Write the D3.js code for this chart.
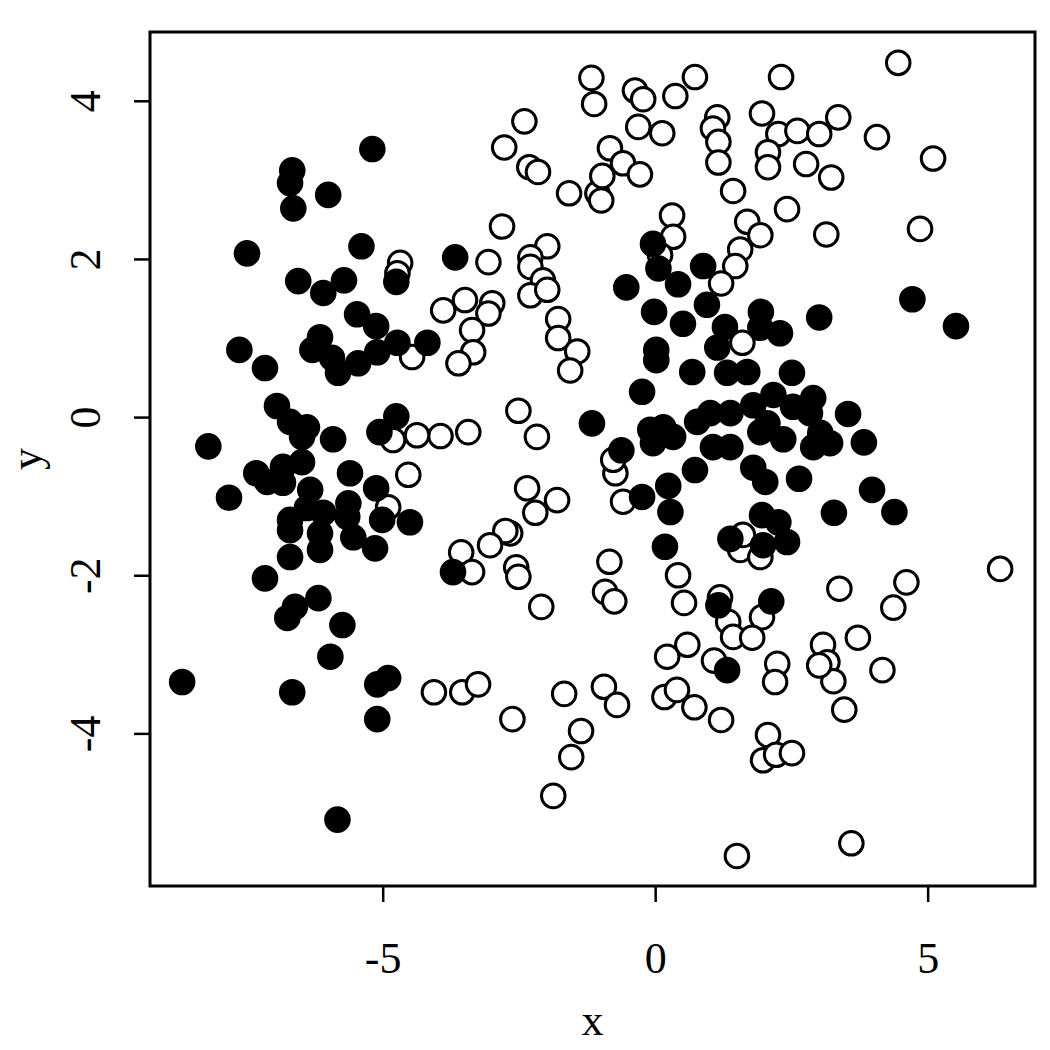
<!DOCTYPE html>
<html>
<head>
<meta charset="utf-8">
<script src="https://cdn.jsdelivr.net/npm/d3@7"></script>
<style>
  body { margin: 0; background: #fff; }
  svg text { font-family: 'Liberation Serif', 'Times New Roman', serif; }
</style>
</head>
<body>
<div class="chart"></div>
<script>
// filled points (class 1)
var filledX = [-8.68, -8.20, -7.82, -7.63, -7.49, -7.16, -7.16, -6.94, -7.32, -7.12, -6.83, -6.48, -6.83, -5.60, -6.33,
  -5.12, -6.70, -6.39, -6.09, -5.63, -6.15, -6.70, -5.65, -5.54, -5.01, -4.50, -6.70, -6.15, -5.14, -6.18, -6.61,
  -6.75, -5.74, -5.96, -6.66, -5.10, -4.90, -5.10, -5.83, -3.71, -5.19, -6.66, -6.70, -6.00, -6.64, -5.39, -3.67,
  -6.55, -6.09, -5.71, -5.47, -5.12, -4.75, -6.15, -6.29, -5.93, -5.82, -5.45, -5.10, -4.73, -4.18, -4.75, -5.06,
  -6.48, -6.39, -6.70, -5.91,
  -0.53, -0.02, 0.02, 0.02, -0.24, -1.16, -0.04, 0.06, 0.42, 0.88, 0.95, 0.51, 1.28, 1.14, 0.68, 1.32, -0.62,
  -0.09, 0.15, 0.33, -0.04, 0.77, 1.01, 1.38, 1.06, 1.38, 1.94, 2.29, 1.93, 1.69, 2.51, 2.17, 1.80, 2.90, 2.53,
  2.84, 3.54, 2.06, 1.93, 2.35, 3.03, 3.21, 2.90, 3.83, 4.72, 5.52, 3.01, -0.24, 0.24, 0.28, 0.73, 0.18, 1.16,
  1.32, 1.80, 2.02, 2.64, 3.98, 4.39, 3.28, 1.96, 2.26, 2.42, 1.98, 1.38, 2.13];
var filledY = [-3.35, -0.37, -1.02, 0.85, 2.07, 0.62, -2.04, 0.14, -0.71, -0.82, -0.63, -0.57, -0.83, -0.71, -0.92,
  -0.90, -1.30, -1.15, -1.21, -1.09, -1.47, -1.43, -1.26, -1.52, -1.30, -1.33, -1.77, -1.68, -1.66, -2.29, -2.40,
  -2.54, -2.63, -3.03, -3.48, -3.38, -3.30, -3.82, -5.09, -1.96, 3.39, 3.12, 2.96, 2.81, 2.64, 2.16, 2.02,
  1.72, 1.57, 1.73, 1.30, 1.15, 1.71, 1.01, 0.85, 0.75, 0.56, 0.68, 0.82, 0.94, 0.94, 0.01, -0.19,
  -0.25, -0.13, -0.06, -0.28,
  1.64, 1.33, 0.85, 0.72, 0.32, -0.08, 2.19, 1.88, 1.68, 1.91, 1.42, 1.18, 1.14, 0.88, 0.57, 0.56, -0.42,
  -0.16, -0.13, -0.25, -0.33, -0.06, 0.05, 0.05, -0.38, -0.38, 1.33, 1.06, 1.13, 0.57, 0.56, 0.28, 0.15, 0.24, 0.13,
  0.05, 0.04, -0.08, -0.19, -0.28, -0.20, -0.33, -0.38, -0.32, 1.49, 1.15, 1.26, -1.01, -0.87, -1.20, -0.67, -1.64, -2.38,
  -3.20, -0.64, -0.82, -0.78, -0.92, -1.20, -1.21, -1.24, -1.33, -1.58, -1.62, -1.54, -2.33];

// open points (class 0)
var openX = [-1.17, -1.12, -0.37, -0.22, 0.37, 0.73, -2.40, -2.77, -2.31, -2.15, -1.58, -1.06, -0.99, -0.97, -0.83,
  -0.59, -0.28, -0.31, 0.13, 1.14, 1.06, 1.16, 1.16, 1.43, 0.31, 0.33, -2.81, -1.98, 4.46, 2.31, 1.96, 2.26, 2.61,
  3.01, 3.36, 4.07, 5.10, 2.07, 2.07, 2.77, 3.23, 2.42, 1.69, 1.93, 3.14, 4.86, 1.56, 1.47, 1.21, 1.60, 0.09,
  -3.06, -2.29, -2.29, -2.06, -2.29, -1.98, -3.89, -3.49, -2.99, -3.06, -3.36, -3.34, -3.61, -1.78, -1.78, -1.43,
  -1.56, -2.51, -2.17, -3.43, -3.94, -4.37, -4.81, -4.68, -4.73, -4.46, -4.53, -4.90, -2.35, -1.80, -2.20, -2.66,
  -2.75, -3.03, -3.56, -3.36, -2.55, -2.51, -2.09, -0.84, -0.92, -0.75, -0.73, -0.77, -0.59, 0.42, 0.53, 1.19,
  1.34, 1.43, 0.59, 0.22, 1.08, -4.06, -3.54, -3.25, -2.62, -1.67, -0.94, -0.70, -1.36, -1.54, -1.87, 0.17, 0.40,
  0.72, 1.21, 1.50, 6.33, 4.61, 3.38, 4.37, 3.72, 3.08, 3.16, 3.27, 2.24, 2.20, 4.17, 1.96, 1.78, 1.56, 1.93,
  1.61, 3.47, 2.07, 1.98, 2.22, 2.51, 3.60, 3.01];
var openY = [4.29, 3.96, 4.13, 4.02, 4.06, 4.30, 3.74, 3.41, 3.16, 3.10, 2.83, 2.83, 2.74, 3.05, 3.40,
  3.21, 3.07, 3.67, 3.59, 3.79, 3.65, 3.48, 3.22, 2.86, 2.55, 2.28, 2.41, 2.16, 4.48, 4.30, 3.84, 3.58, 3.62,
  3.58, 3.79, 3.54, 3.27, 3.35, 3.16, 3.20, 3.03, 2.63, 2.47, 2.30, 2.31, 2.38, 2.12, 1.91, 1.69, 0.94, 2.05,
  1.96, 2.02, 1.90, 1.73, 1.54, 1.61, 1.35, 1.48, 1.44, 1.31, 1.10, 0.82, 0.68, 1.24, 1.00, 0.83,
  0.59, 0.08, -0.25, -0.19, -0.24, -0.23, -0.29, 1.95, 1.82, 0.76, -0.73, -1.14, -0.90, -1.05, -1.21, -1.47,
  -1.44, -1.62, -1.71, -1.96, -1.90, -2.02, -2.40, -1.83, -2.21, -2.33, -0.71, -0.54, -1.07, -2.00, -2.35, -2.28,
  -2.59, -2.78, -2.88, -3.03, -3.08, -3.48, -3.48, -3.38, -3.82, -3.50, -3.41, -3.64, -3.97, -4.30, -4.79, -3.54, -3.45,
  -3.67, -3.83, -5.55, -1.92, -2.09, -2.17, -2.41, -2.79, -2.88, -3.10, -3.34, -3.12, -3.35, -3.20, -2.53, -2.79, -1.68, -1.77,
  -1.49, -3.70, -4.02, -4.34, -4.27, -4.25, -5.39, -3.14];

// axes
var xTicks = [-5, 0, 5];
var yTicks = [-4, -2, 0, 2, 4];
var xLimits = [-9.27, 6.97];
var yLimits = [-5.93, 4.87];

const W = 1050, H = 1050;
var margin = {top: 32, right: 15, bottom: 164, left: 150};

var svg = d3.select('.chart')
            .append('svg')
            .attr('width', W)
            .attr('height', H);

var x = d3.scaleLinear().domain(xLimits).range([margin.left, W - margin.right]);
var y = d3.scaleLinear().domain(yLimits).range([H - margin.bottom, margin.top]);

var openPts = openX.map((v, i) => [v, openY[i]]);
var filledPts = filledX.map((v, i) => [v, filledY[i]]);

// open circles first, filled on top
svg.append('g')
   .selectAll('circle')
   .data(openPts)
   .enter()
   .append('circle')
   .attr('cx', d => x(d[0]))
   .attr('cy', d => y(d[1]))
   .attr('r', 11.8)
   .attr('fill', '#fff')
   .attr('stroke', '#000')
   .attr('stroke-width', 3);

svg.append('g')
   .selectAll('circle')
   .data(filledPts)
   .enter()
   .append('circle')
   .attr('cx', d => x(d[0]))
   .attr('cy', d => y(d[1]))
   .attr('r', 11.8)
   .attr('fill', '#000')
   .attr('stroke', '#000')
   .attr('stroke-width', 3);

// box
svg.append('rect')
   .attr('x', margin.left)
   .attr('y', margin.top)
   .attr('width', W - margin.left - margin.right)
   .attr('height', H - margin.top - margin.bottom)
   .attr('fill', 'none')
   .attr('stroke', '#000')
   .attr('stroke-width', 3);

// x axis
var xAxis = svg.append('g')
   .attr('transform', `translate(0, ${H - margin.bottom})`)
   .call(d3.axisBottom(x).tickValues(xTicks).tickSize(16).tickFormat(d3.format('d')));
xAxis.select('.domain').remove();
xAxis.selectAll('line').attr('stroke-width', 2.5);
xAxis.selectAll('text')
     .attr('y', 87)
     .attr('dy', 0)
     .style('font-size', '44px')
     .style('fill', '#000')
     .text(d => String(d));

// y axis
var yAxis = svg.append('g')
   .attr('transform', `translate(${margin.left}, 0)`)
   .call(d3.axisLeft(y).tickValues(yTicks).tickSize(16));
yAxis.select('.domain').remove();
yAxis.selectAll('line').attr('stroke-width', 2.5);
yAxis.selectAll('text')
     .attr('x', 0)
     .attr('y', 0)
     .attr('dy', 0)
     .attr('transform', 'translate(-50,0) rotate(-90)')
     .style('text-anchor', 'middle')
     .style('font-size', '44px')
     .style('fill', '#000')
     .text(d => String(d));

// axis titles
svg.append('text')
   .attr('x', (margin.left + W - margin.right) / 2)
   .attr('y', 1035)
   .style('text-anchor', 'middle')
   .style('font-size', '44px')
   .text('x');

svg.append('text')
   .attr('transform', `translate(41, ${(margin.top + H - margin.bottom) / 2}) rotate(-90)`)
   .style('text-anchor', 'middle')
   .style('font-size', '44px')
   .text('y');
</script>
</body>
</html>
